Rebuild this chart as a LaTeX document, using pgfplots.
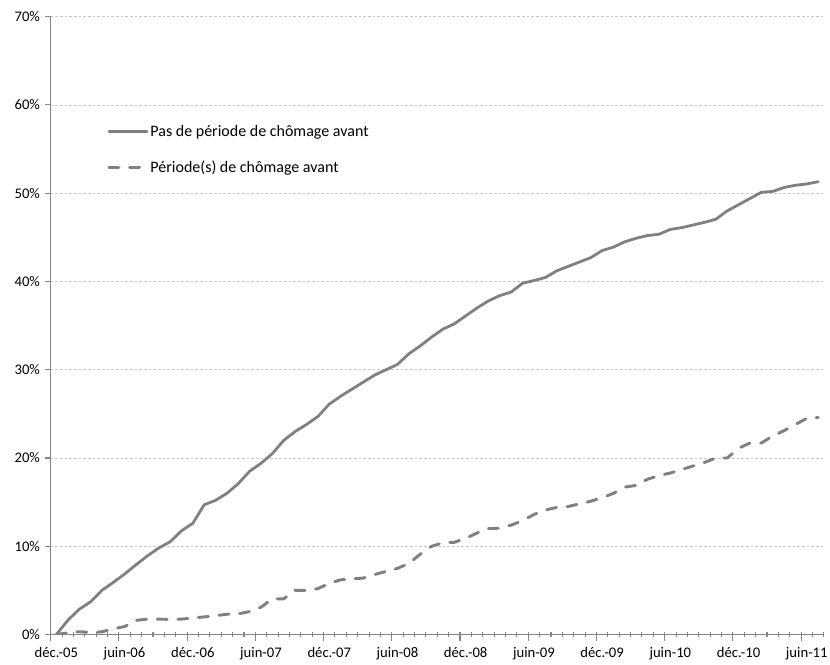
\documentclass[border=0pt]{standalone}
\usepackage{pgfplots}
\pgfplotsset{compat=1.18}
\usepackage{fontspec}
\setmainfont{Carlito}
\definecolor{serie}{HTML}{808080}
\definecolor{axisgray}{HTML}{868686}
\definecolor{gridgray}{HTML}{C8C8C8}
\begin{document}
\begin{tikzpicture}
\begin{axis}[
  at={(0,0)}, anchor=south west,
  scale only axis,
  width=579.9pt, height=463.4pt,
  xmin=-0.5, xmax=67.5,
  ymin=0, ymax=70,
  axis x line*=bottom, axis y line*=left,
  axis line style={axisgray, line width=0.8pt},
  xtick={-0.5,5.5,...,65.5},
  xticklabels={déc.-05,juin-06,déc.-06,juin-07,déc.-07,juin-08,déc.-08,juin-09,déc.-09,juin-10,déc.-10,juin-11},
  xticklabel style={xshift=4.26pt, yshift=-1.5pt, font=\fontsize{11}{13}\selectfont, text=black},
  minor xtick={-0.5,0.5,...,67.5},
  ytick={0,10,...,70},
  yticklabels={0\%,10\%,20\%,30\%,40\%,50\%,60\%,70\%},
  yticklabel style={font=\fontsize{11}{13}\selectfont, text=black},
  tick align=outside,
  major tick length=4.5pt,
  minor tick length=4pt,
  tick style={axisgray, line width=0.8pt},
  minor x tick style={yshift=2pt},
  ymajorgrids=true,
  major y grid style={gridgray, line width=0.6pt, dash pattern=on 2pt off 1.5pt},
  legend cell align=left,
  legend style={draw=none, fill=none, at={(rel axis cs:0.068,0.829)}, anchor=north west,
    font=\fontsize{12}{14}\selectfont, row sep=16.5pt, column sep=1.5pt,
    nodes={inner sep=0pt}},
  legend image code/.code={\draw[#1] (0pt,0pt) -- (28.5pt,0pt);},
]
\addplot[serie, line width=2.1pt, line join=round, line cap=round] coordinates {
(0,0) (1,1.6) (2,2.85) (3,3.7) (4,5.0) (5,5.9) (6,6.85) (7,7.9) (8,8.9) (9,9.8)
(10,10.5) (11,11.75) (12,12.6) (13,14.7) (14,15.2) (15,16.0) (16,17.1) (17,18.5) (18,19.4) (19,20.5)
(20,22.0) (21,23.0) (22,23.8) (23,24.7) (24,26.1) (25,27.0) (26,27.8) (27,28.6) (28,29.4) (29,30.0)
(30,30.6) (31,31.8) (32,32.7) (33,33.7) (34,34.6) (35,35.2) (36,36.1) (37,37.0) (38,37.8) (39,38.4)
(40,38.8) (41,39.8) (42,40.1) (43,40.45) (44,41.2) (45,41.7) (46,42.2) (47,42.7) (48,43.5) (49,43.9)
(50,44.5) (51,44.9) (52,45.2) (53,45.35) (54,45.9) (55,46.1) (56,46.4) (57,46.7) (58,47.05) (59,48.0)
(60,48.7) (61,49.4) (62,50.1) (63,50.2) (64,50.65) (65,50.9) (66,51.05) (67,51.3)
};
\addlegendentry{Pas de période de chômage avant}
\addplot[serie, line width=2.2pt, line join=round, line cap=round, dash pattern=on 7.5pt off 8pt] coordinates {
(0,0) (1,0.2) (2,0.32) (3,0.25) (4,0.3) (5,0.65) (6,0.9) (7,1.6) (8,1.75) (9,1.74)
(10,1.72) (11,1.75) (12,1.87) (13,2.0) (14,2.13) (15,2.3) (16,2.35) (17,2.6) (18,3.1) (19,4.05)
(20,4.05) (21,5.0) (22,5.0) (23,5.2) (24,5.8) (25,6.2) (26,6.3) (27,6.4) (28,6.8) (29,7.15)
(30,7.5) (31,8.05) (32,9.1) (33,10.0) (34,10.4) (35,10.45) (36,10.9) (37,11.5) (38,12.0) (39,12.05)
(40,12.4) (41,12.9) (42,13.6) (43,14.1) (44,14.4) (45,14.5) (46,14.8) (47,15.1) (48,15.5) (49,16.0)
(50,16.7) (51,16.9) (52,17.6) (53,18.0) (54,18.3) (55,18.7) (56,19.1) (57,19.5) (58,20.0) (59,20.0)
(60,21.1) (61,21.7) (62,21.7) (63,22.5) (64,23.1) (65,23.8) (66,24.5) (67,24.6)
};
\addlegendentry{Période(s) de chômage avant}
\end{axis}
\pgfresetboundingbox
\path (-38.0pt,-22.1pt) rectangle (584.5pt,475.9pt);
\end{tikzpicture}
\end{document}
